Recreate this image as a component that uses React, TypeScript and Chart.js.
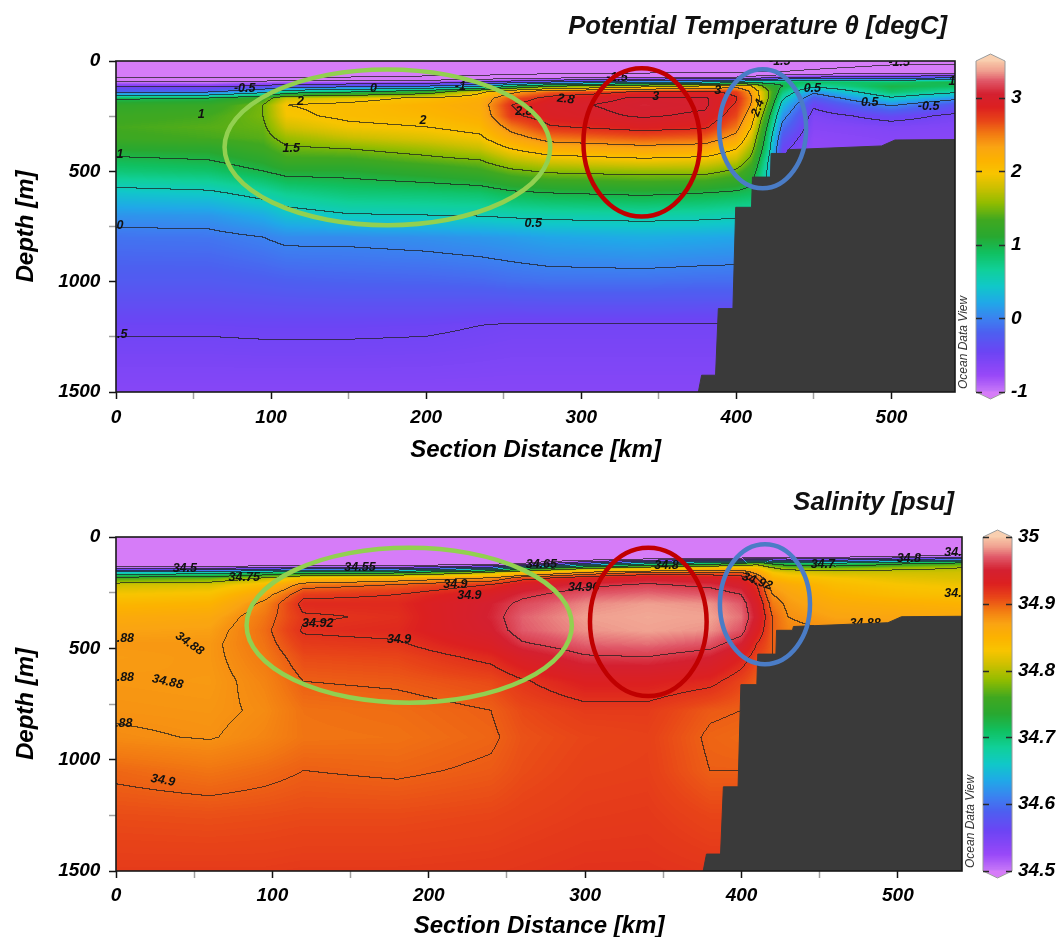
import React, { useEffect, useRef } from 'react';
import { Chart, registerables } from 'chart.js';

Chart.register(...registerables);

const FONT_FAMILY = "'Liberation Sans', Arial, Helvetica, sans-serif";

/* ---------------- shared axes ---------------- */
const DIST_MIN = 0;
const DIST_MAX = 541;
const DEPTH_MIN = 0;
const DEPTH_MAX = 1500;
const X_TICKS = [0, 50, 100, 150, 200, 250, 300, 350, 400, 450, 500];
const X_LABELED = [0, 100, 200, 300, 400, 500];
const Y_TICKS = [0, 250, 500, 750, 1000, 1250, 1500];
const Y_LABELED = [0, 500, 1000, 1500];
const X_TITLE = 'Section Distance [km]';
const Y_TITLE = 'Depth [m]';

/* ---------------- bathymetry (section floor) ---------------- */
const BATHY_KM = [375.5, 377.6, 386.6, 388.4, 397.8, 399.6, 409.8, 410.4, 422.0, 422.4, 432.6, 433.2, 493.6, 502.3, 541];
const BATHY_DEPTH = [1500, 1424, 1424, 1122, 1122, 663, 663, 526, 526, 419, 419, 402, 385, 358, 356];

/* ---------------- potential temperature ---------------- */
const THETA_TITLE = 'Potential Temperature \u03b8 [degC]';
const THETA_KM = [0, 60, 95, 110, 150, 200, 235, 255, 280, 340, 380, 400, 410, 420, 430, 450, 500, 541];
const THETA_DEPTH = [0, 50, 75, 95, 115, 140, 170, 200, 250, 300, 350, 400, 450, 500, 600, 700, 800, 1000, 1200, 1500];
const THETA_PROFILES = [
  [-1.75, -1.7, -1.55, -1.0, -0.55, -0.15, 0.95, 1.2, 1.3, 1.35, 1.3, 1.12, 0.95, 0.8, 0.4, 0.1, -0.08, -0.25, -0.47, -0.65],
  [-1.75, -1.7, -1.55, -1.05, -0.6, -0.1, 1.0, 1.25, 1.35, 1.4, 1.35, 1.15, 1.0, 0.85, 0.45, 0.12, -0.07, -0.25, -0.47, -0.65],
  [-1.75, -1.7, -1.5, -0.95, -0.45, 0.3, 1.3, 1.5, 1.5, 1.45, 1.4, 1.3, 1.15, 1.0, 0.6, 0.25, 0.0, -0.22, -0.46, -0.65],
  [-1.75, -1.7, -1.5, -0.9, -0.3, 0.7, 1.8, 2.0, 1.95, 1.8, 1.6, 1.45, 1.3, 1.1, 0.7, 0.38, 0.05, -0.2, -0.46, -0.65],
  [-1.75, -1.7, -1.5, -0.9, -0.2, 0.9, 1.9, 2.05, 2.05, 1.95, 1.75, 1.5, 1.3, 1.1, 0.8, 0.48, 0.05, -0.18, -0.46, -0.65],
  [-1.75, -1.7, -1.45, -0.85, -0.05, 1.2, 2.05, 2.15, 2.1, 2.0, 1.85, 1.62, 1.42, 1.2, 0.82, 0.5, 0.08, -0.17, -0.47, -0.65],
  [-1.75, -1.7, -1.4, -0.6, 0.3, 1.9, 2.2, 2.25, 2.2, 2.1, 1.95, 1.75, 1.5, 1.3, 0.85, 0.52, 0.12, -0.15, -0.5, -0.65],
  [-1.75, -1.68, -1.35, -0.4, 0.9, 2.3, 2.65, 2.8, 2.75, 2.5, 2.28, 2.0, 1.72, 1.45, 0.95, 0.55, 0.15, -0.12, -0.52, -0.65],
  [-1.75, -1.67, -1.25, -0.2, 1.4, 2.6, 2.88, 2.95, 2.92, 2.78, 2.52, 2.2, 1.85, 1.55, 1.0, 0.58, 0.2, -0.1, -0.52, -0.65],
  [-1.75, -1.65, -1.1, 0.2, 1.8, 2.82, 3.03, 3.06, 3.02, 2.9, 2.62, 2.3, 1.95, 1.6, 1.05, 0.6, 0.25, -0.1, -0.52, -0.65],
  [-1.75, -1.62, -1.05, 0.3, 2.0, 2.86, 3.02, 3.03, 2.97, 2.84, 2.58, 2.25, 1.9, 1.6, 1.0, 0.58, 0.22, -0.12, -0.52, -0.65],
  [-1.75, -1.6, -1.0, 0.5, 2.3, 2.72, 2.82, 2.78, 2.68, 2.52, 2.3, 2.0, 1.75, 1.45, 0.95, 0.55, 0.2, -0.12, -0.52, -0.65],
  [-1.75, -1.55, -0.9, 0.8, 2.0, 2.35, 2.42, 2.38, 2.2, 2.0, 1.8, 1.6, 1.4, 1.2, 0.9, 0.55, 0.2, -0.12, -0.52, -0.65],
  [-1.75, -1.55, -0.8, 0.7, 1.3, 1.6, 1.6, 1.45, 1.2, 1.0, 0.85, 0.75, 0.6, 0.5, 0.4, 0.3, 0.1, -0.15, -0.52, -0.65],
  [-1.75, -1.5, -0.6, 0.9, 1.0, 0.8, 0.55, 0.35, 0.1, -0.1, -0.3, -0.45, -0.5, -0.55, -0.6, -0.6, -0.6, -0.6, -0.6, -0.65],
  [-1.7, -1.45, -0.5, 0.9, 0.6, 0.1, -0.25, -0.45, -0.6, -0.65, -0.7, -0.72, -0.72, -0.72, -0.72, -0.72, -0.72, -0.72, -0.72, -0.72],
  [-1.6, -1.35, -0.4, 0.85, 1.0, 0.85, 0.45, 0.05, -0.4, -0.6, -0.65, -0.68, -0.7, -0.7, -0.7, -0.7, -0.7, -0.7, -0.7, -0.7],
  [-1.6, -1.3, -0.2, 1.0, 0.9, 0.6, 0.1, -0.3, -0.55, -0.62, -0.66, -0.68, -0.7, -0.7, -0.7, -0.7, -0.7, -0.7, -0.7, -0.7],
];
const THETA_LEVELS = [-1.5, -1, -0.5, 0, 0.5, 1, 1.5, 2, 2.4, 2.8, 3];
const THETA_CB_MIN = -1;
const THETA_CB_MAX = 3.5;
const THETA_CB_TICKS = [-1, 0, 1, 2, 3];
const THETA_LABEL_TEXT = ['-0.5', '0', '-1', '2', '1', '1.5', '2', '1', '0', '.5', '0.5', '2.8', '2.8', '3', '3', '-1.5', '2.4', '0.5', '0.5', '-0.5', '-1.5', '-1.5', '1'];
const THETA_LABEL_KM = [83, 166, 222, 119, 55, 113, 198, 2.5, 2.5, 4, 269, 290, 263, 348, 388, 323, 414, 449, 486, 524, 505, 428, 539];
const THETA_LABEL_DEPTH = [123, 123, 114, 182, 241, 395, 268, 423, 745, 1240, 736, 173, 227, 159, 136, 77, 213, 123, 190, 205, 8, 4, 91];
const THETA_LABEL_ANGLE = [0, 0, 0, 0, 0, 0, 0, 0, 0, 0, 0, 8, 0, 0, 0, 0, -70, 0, 0, 0, 0, 0, 0];
const THETA_ELL_KM = [175, 339, 417];
const THETA_ELL_DEPTH = [391, 369, 307];
const THETA_ELL_RKM = [105, 37.6, 28];
const THETA_ELL_RDEPTH = [353, 336, 270];

/* ---------------- salinity ---------------- */
const SAL_TITLE = 'Salinity [psu]';
const SAL_KM = [0, 60, 95, 120, 180, 240, 260, 300, 340, 380, 400, 410, 420, 430, 460, 500, 541];
const SAL_DEPTH = [0, 90, 120, 140, 160, 185, 215, 260, 300, 360, 420, 480, 540, 650, 780, 900, 1050, 1250, 1500];
const SAL_PROFILES = [
  [34.30, 34.34, 34.42, 34.52, 34.66, 34.76, 34.81, 34.83, 34.845, 34.862, 34.87, 34.876, 34.874, 34.876, 34.878, 34.882, 34.897, 34.907, 34.915],
  [34.30, 34.34, 34.42, 34.53, 34.67, 34.77, 34.815, 34.835, 34.85, 34.865, 34.872, 34.876, 34.876, 34.875, 34.877, 34.879, 34.892, 34.906, 34.915],
  [34.30, 34.34, 34.43, 34.55, 34.70, 34.80, 34.84, 34.87, 34.885, 34.892, 34.895, 34.893, 34.89, 34.885, 34.882, 34.885, 34.896, 34.907, 34.915],
  [34.30, 34.34, 34.44, 34.56, 34.72, 34.84, 34.89, 34.915, 34.925, 34.918, 34.922, 34.915, 34.908, 34.90, 34.893, 34.892, 34.90, 34.908, 34.916],
  [34.30, 34.33, 34.43, 34.56, 34.73, 34.86, 34.90, 34.92, 34.925, 34.922, 34.925, 34.918, 34.91, 34.902, 34.895, 34.893, 34.898, 34.908, 34.916],
  [34.30, 34.35, 34.46, 34.62, 34.80, 34.88, 34.92, 34.94, 34.95, 34.952, 34.948, 34.938, 34.925, 34.908, 34.90, 34.898, 34.902, 34.91, 34.917],
  [34.30, 34.36, 34.50, 34.70, 34.84, 34.91, 34.94, 34.955, 34.965, 34.972, 34.97, 34.958, 34.94, 34.918, 34.908, 34.905, 34.907, 34.912, 34.918],
  [34.30, 34.38, 34.60, 34.78, 34.88, 34.93, 34.955, 34.97, 34.98, 34.985, 34.982, 34.972, 34.958, 34.932, 34.915, 34.91, 34.912, 34.915, 34.92],
  [34.30, 34.40, 34.68, 34.82, 34.90, 34.945, 34.962, 34.975, 34.985, 34.988, 34.986, 34.975, 34.96, 34.932, 34.915, 34.912, 34.913, 34.916, 34.92],
  [34.30, 34.42, 34.72, 34.84, 34.90, 34.94, 34.955, 34.97, 34.982, 34.986, 34.982, 34.968, 34.95, 34.925, 34.902, 34.898, 34.90, 34.91, 34.918],
  [34.30, 34.43, 34.75, 34.85, 34.90, 34.93, 34.945, 34.96, 34.97, 34.975, 34.968, 34.95, 34.93, 34.91, 34.90, 34.896, 34.90, 34.91, 34.918],
  [34.30, 34.45, 34.78, 34.84, 34.87, 34.90, 34.92, 34.93, 34.94, 34.945, 34.935, 34.92, 34.91, 34.90, 34.90, 34.90, 34.90, 34.91, 34.918],
  [34.30, 34.45, 34.74, 34.80, 34.83, 34.85, 34.87, 34.88, 34.89, 34.90, 34.90, 34.90, 34.90, 34.90, 34.90, 34.90, 34.90, 34.91, 34.918],
  [34.30, 34.45, 34.72, 34.78, 34.82, 34.84, 34.86, 34.87, 34.875, 34.88, 34.885, 34.89, 34.89, 34.89, 34.89, 34.90, 34.90, 34.91, 34.918],
  [34.30, 34.48, 34.70, 34.78, 34.81, 34.83, 34.84, 34.85, 34.86, 34.87, 34.88, 34.885, 34.885, 34.885, 34.89, 34.90, 34.90, 34.91, 34.918],
  [34.30, 34.50, 34.74, 34.79, 34.81, 34.82, 34.83, 34.84, 34.855, 34.868, 34.88, 34.885, 34.885, 34.885, 34.89, 34.90, 34.90, 34.91, 34.918],
  [34.30, 34.52, 34.76, 34.80, 34.81, 34.815, 34.825, 34.835, 34.85, 34.865, 34.875, 34.88, 34.885, 34.885, 34.89, 34.90, 34.90, 34.91, 34.918],
];
const SAL_LEVELS = [34.5, 34.55, 34.6, 34.65, 34.7, 34.75, 34.8, 34.88, 34.9, 34.92, 34.96];
const SAL_CB_MIN = 34.5;
const SAL_CB_MAX = 35;
const SAL_CB_TICKS = [34.5, 34.6, 34.7, 34.8, 34.9, 35];
const SAL_LABEL_TEXT = ['34.5', '34.75', '34.55', '34.65', '34.8', '34.9', '34.9', '34.96', '34.92', '34.7', '34.8', '34.8', '34.8', '34.88', '34.92', '34.9', '.88', '34.88', '.88', '34.88', '.88', '34.9'];
const SAL_LABEL_KM = [44, 82, 156, 272, 352, 217, 226, 299, 410, 452, 507, 537.5, 537.5, 479, 129, 181, 6, 47, 6, 33, 5, 30];
const SAL_LABEL_DEPTH = [140, 181, 136, 122, 126, 212, 262, 226, 199, 122, 99, 72, 253, 389, 389, 461, 456, 479, 633, 651, 840, 1093];
const SAL_LABEL_ANGLE = [0, 0, 0, 0, 0, 0, 0, 0, 20, 0, 0, 0, 0, 0, 0, 0, 0, 35, 0, 12, 0, 10];
const SAL_ELL_KM = [187.5, 340.4, 415];
const SAL_ELL_DEPTH = [396, 381, 302];
const SAL_ELL_RKM = [104, 37.3, 28.8];
const SAL_ELL_RDEPTH = [348, 333, 269];

/* ---------------- styling ---------------- */
const ELLIPSE_COLORS = ['#92d050', '#c00000', '#4a7cc6'];
const BATHY_COLOR = '#3a3a3a';
const CMAP_T = [0, 0.05, 0.12, 0.18, 0.22, 0.27, 0.32, 0.37, 0.42, 0.47, 0.52, 0.57, 0.62, 0.66, 0.7, 0.74, 0.78, 0.82, 0.86, 0.9, 0.94, 0.97, 1];
const CMAP_HEX = ['#c878f8', '#9848f8', '#6c44f4', '#4c60f0', '#3c80f0', '#20a8e8', '#10c8c8', '#10d098', '#10c060', '#28a830', '#40a820', '#90bc00', '#d0c000', '#f8c400', '#fcb200', '#faa412', '#f27a12', '#e84418', '#dc2020', '#d42030', '#e05868', '#f0a090', '#f8c8a8'];
const BELOW_RGB = [214, 124, 248];
const ABOVE_RGB = [249, 207, 176];

function hexToRgb(h: string) {
  const n = parseInt(h.slice(1), 16);
  return [(n >> 16) & 255, (n >> 8) & 255, n & 255];
}

const LUT_N = 512;
const LUT = (() => {
  const rgb = CMAP_HEX.map(hexToRgb);
  const out = new Uint8ClampedArray(LUT_N * 3);
  for (let n = 0; n < LUT_N; n++) {
    const t = n / (LUT_N - 1);
    let k = 0;
    while (k < CMAP_T.length - 2 && t > CMAP_T[k + 1]) k++;
    const f = (t - CMAP_T[k]) / (CMAP_T[k + 1] - CMAP_T[k]);
    for (let c = 0; c < 3; c++) out[n * 3 + c] = rgb[k][c] + (rgb[k + 1][c] - rgb[k][c]) * f;
  }
  return out;
})();

function colorAt(v: number, min: number, max: number): number[] {
  if (v < min) return BELOW_RGB;
  if (v > max) return ABOVE_RGB;
  const n = Math.round(((v - min) / (max - min)) * (LUT_N - 1));
  return [LUT[n * 3], LUT[n * 3 + 1], LUT[n * 3 + 2]];
}

function clamp01(v: number) {
  return v < 0 ? 0 : v > 1 ? 1 : v;
}

type Layout = {
  height: number; plotLeft: number; plotRight: number; plotTop: number; plotBottom: number;
  titleBaseline: number; xTickPad: number; xTitlePad: number; cbOffset: number; cbWidth: number; cbLabelPad: number;
};

type Panel = {
  key: string; title: string; km: number[]; depth: number[]; profiles: number[][]; levels: number[];
  cbMin: number; cbMax: number; cbTicks: number[]; cbDecimals: number;
  labelText: string[]; labelKm: number[]; labelDepth: number[]; labelAngle: number[];
  ellKm: number[]; ellDepth: number[]; ellRKm: number[]; ellRDepth: number[];
  layout: Layout;
};

const THETA_PANEL: Panel = {
  key: 'theta', title: THETA_TITLE, km: THETA_KM, depth: THETA_DEPTH, profiles: THETA_PROFILES, levels: THETA_LEVELS,
  cbMin: THETA_CB_MIN, cbMax: THETA_CB_MAX, cbTicks: THETA_CB_TICKS, cbDecimals: 0,
  labelText: THETA_LABEL_TEXT, labelKm: THETA_LABEL_KM, labelDepth: THETA_LABEL_DEPTH, labelAngle: THETA_LABEL_ANGLE,
  ellKm: THETA_ELL_KM, ellDepth: THETA_ELL_DEPTH, ellRKm: THETA_ELL_RKM, ellRDepth: THETA_ELL_RDEPTH,
  layout: { height: 466, plotLeft: 116, plotRight: 955, plotTop: 61, plotBottom: 392, titleBaseline: 34, xTickPad: 7.6, xTitlePad: 6.4, cbOffset: 21, cbWidth: 29, cbLabelPad: 56 },
};

const SAL_PANEL: Panel = {
  key: 'sal', title: SAL_TITLE, km: SAL_KM, depth: SAL_DEPTH, profiles: SAL_PROFILES, levels: SAL_LEVELS,
  cbMin: SAL_CB_MIN, cbMax: SAL_CB_MAX, cbTicks: SAL_CB_TICKS, cbDecimals: 1,
  labelText: SAL_LABEL_TEXT, labelKm: SAL_LABEL_KM, labelDepth: SAL_LABEL_DEPTH, labelAngle: SAL_LABEL_ANGLE,
  ellKm: SAL_ELL_KM, ellDepth: SAL_ELL_DEPTH, ellRKm: SAL_ELL_RKM, ellRDepth: SAL_ELL_RDEPTH,
  layout: { height: 471, plotLeft: 116, plotRight: 962, plotTop: 71, plotBottom: 405, titleBaseline: 44, xTickPad: 6.6, xTitlePad: 1.4, cbOffset: 21, cbWidth: 29, cbLabelPad: 56 },
};

/* ---------------- drawing helpers ---------------- */
function drawField(chart: any, p: Panel) {
  const { ctx, chartArea } = chart;
  const xs = chart.scales.x;
  const ys = chart.scales.y;
  const L = Math.round(chartArea.left);
  const T = Math.round(chartArea.top);
  const W = Math.round(chartArea.right) - L;
  const H = Math.round(chartArea.bottom) - T;
  if (W <= 0 || H <= 0) return;
  const km = p.km, dp = p.depth, pr = p.profiles, lv = p.levels;
  const ci = new Int32Array(W), cf = new Float32Array(W);
  for (let i = 0; i < W; i++) {
    const v = xs.getValueForPixel(L + i + 0.5);
    let k = 0;
    while (k < km.length - 2 && v > km[k + 1]) k++;
    ci[i] = k;
    cf[i] = clamp01((v - km[k]) / (km[k + 1] - km[k]));
  }
  const ri = new Int32Array(H), rf = new Float32Array(H);
  for (let j = 0; j < H; j++) {
    const v = ys.getValueForPixel(T + j + 0.5);
    let k = 0;
    while (k < dp.length - 2 && v > dp[k + 1]) k++;
    ri[j] = k;
    rf[j] = clamp01((v - dp[k]) / (dp[k + 1] - dp[k]));
  }
  const N = W * H;
  const vals = new Float32Array(N);
  const band = new Int16Array(N);
  for (let j = 0; j < H; j++) {
    const r = ri[j], f = rf[j];
    for (let i = 0; i < W; i++) {
      const a = pr[ci[i]], b = pr[ci[i] + 1], g = cf[i];
      const va = a[r] + (a[r + 1] - a[r]) * f;
      const vb = b[r] + (b[r + 1] - b[r]) * f;
      const v = va + (vb - va) * g;
      const idx = j * W + i;
      vals[idx] = v;
      let n = 0;
      for (let q = 0; q < lv.length; q++) if (v >= lv[q]) n++;
      band[idx] = n;
    }
  }
  const img = ctx.createImageData(W, H);
  const d = img.data;
  const A = 0.72;
  for (let j = 0; j < H; j++) {
    for (let i = 0; i < W; i++) {
      const idx = j * W + i;
      const c = colorAt(vals[idx], p.cbMin, p.cbMax);
      let r = c[0], g = c[1], b = c[2];
      const bd = band[idx];
      const edge = (i + 1 < W && band[idx + 1] !== bd) || (j + 1 < H && band[idx + W] !== bd);
      if (edge) {
        r = r * (1 - A) + 30 * A;
        g = g * (1 - A) + 30 * A;
        b = b * (1 - A) + 30 * A;
      }
      const o = idx * 4;
      d[o] = r; d[o + 1] = g; d[o + 2] = b; d[o + 3] = 255;
    }
  }
  ctx.putImageData(img, L, T);
}

function drawContourLabels(chart: any, p: Panel) {
  const { ctx, chartArea } = chart;
  const xs = chart.scales.x, ys = chart.scales.y;
  ctx.save();
  ctx.beginPath();
  ctx.rect(chartArea.left, chartArea.top, chartArea.right - chartArea.left, chartArea.bottom - chartArea.top);
  ctx.clip();
  ctx.font = `italic bold 12.5px ${FONT_FAMILY}`;
  ctx.fillStyle = '#111';
  ctx.textAlign = 'center';
  ctx.textBaseline = 'middle';
  for (let i = 0; i < p.labelText.length; i++) {
    const px = xs.getPixelForValue(p.labelKm[i]);
    const py = ys.getPixelForValue(p.labelDepth[i]);
    ctx.save();
    ctx.translate(px, py);
    ctx.rotate((p.labelAngle[i] * Math.PI) / 180);
    ctx.fillText(p.labelText[i], 0, 0);
    ctx.restore();
  }
  ctx.restore();
}

function drawFrame(chart: any) {
  const { ctx, chartArea } = chart;
  ctx.save();
  ctx.strokeStyle = '#1a1a1a';
  ctx.lineWidth = 1.6;
  ctx.strokeRect(chartArea.left, chartArea.top, chartArea.right - chartArea.left, chartArea.bottom - chartArea.top);
  ctx.restore();
}

function drawEllipses(chart: any, p: Panel) {
  const { ctx } = chart;
  const xs = chart.scales.x, ys = chart.scales.y;
  ctx.save();
  ctx.lineWidth = 4.5;
  for (let i = 0; i < p.ellKm.length; i++) {
    const cx = xs.getPixelForValue(p.ellKm[i]);
    const cy = ys.getPixelForValue(p.ellDepth[i]);
    const rx = Math.abs(xs.getPixelForValue(p.ellKm[i] + p.ellRKm[i]) - cx);
    const ry = Math.abs(ys.getPixelForValue(p.ellDepth[i] + p.ellRDepth[i]) - cy);
    ctx.strokeStyle = ELLIPSE_COLORS[i % ELLIPSE_COLORS.length];
    ctx.beginPath();
    ctx.ellipse(cx, cy, rx, ry, 0, 0, Math.PI * 2);
    ctx.stroke();
  }
  ctx.restore();
}

function drawColorbar(chart: any, p: Panel) {
  const { ctx } = chart;
  const cb = chart.scales.cb;
  if (!cb) return;
  const x0 = cb.left + p.layout.cbOffset;
  const w = p.layout.cbWidth;
  const yTop = cb.getPixelForValue(p.cbMax);
  const yBot = cb.getPixelForValue(p.cbMin);
  const cap = 7;
  ctx.save();
  for (let y = Math.floor(yTop); y < Math.ceil(yBot); y++) {
    const v = cb.getValueForPixel(y + 0.5);
    const c = colorAt(Math.min(p.cbMax, Math.max(p.cbMin, v)), p.cbMin, p.cbMax);
    ctx.fillStyle = `rgb(${c[0]},${c[1]},${c[2]})`;
    ctx.fillRect(x0, y, w, 1);
  }
  ctx.fillStyle = `rgb(${ABOVE_RGB.join(',')})`;
  ctx.beginPath();
  ctx.moveTo(x0, yTop + 0.5);
  ctx.lineTo(x0 + w / 2, yTop - cap);
  ctx.lineTo(x0 + w, yTop + 0.5);
  ctx.closePath();
  ctx.fill();
  ctx.fillStyle = `rgb(${BELOW_RGB.join(',')})`;
  ctx.beginPath();
  ctx.moveTo(x0, yBot - 0.5);
  ctx.lineTo(x0 + w / 2, yBot + cap);
  ctx.lineTo(x0 + w, yBot - 0.5);
  ctx.closePath();
  ctx.fill();
  ctx.strokeStyle = '#9a9a9a';
  ctx.lineWidth = 1;
  ctx.beginPath();
  ctx.moveTo(x0, yBot);
  ctx.lineTo(x0, yTop);
  ctx.lineTo(x0 + w / 2, yTop - cap);
  ctx.lineTo(x0 + w, yTop);
  ctx.lineTo(x0 + w, yBot);
  ctx.lineTo(x0 + w / 2, yBot + cap);
  ctx.closePath();
  ctx.stroke();
  ctx.strokeStyle = '#2a2a2a';
  ctx.lineWidth = 1.4;
  for (const v of p.cbTicks) {
    const y = Math.round(cb.getPixelForValue(v)) + 0.5;
    ctx.beginPath();
    ctx.moveTo(x0, y);
    ctx.lineTo(x0 + 6, y);
    ctx.moveTo(x0 + w - 6, y);
    ctx.lineTo(x0 + w, y);
    ctx.stroke();
  }
  ctx.translate(x0 - 12, yBot - 3);
  ctx.rotate(-Math.PI / 2);
  ctx.font = `italic 12px ${FONT_FAMILY}`;
  ctx.fillStyle = '#333';
  ctx.textAlign = 'left';
  ctx.textBaseline = 'middle';
  ctx.fillText('Ocean Data View', 0, 0);
  ctx.restore();
}

function drawTitle(chart: any, p: Panel) {
  const { ctx, chartArea } = chart;
  ctx.save();
  ctx.font = `italic bold 25.6px ${FONT_FAMILY}`;
  ctx.fillStyle = '#111';
  ctx.textAlign = 'right';
  ctx.textBaseline = 'alphabetic';
  ctx.fillText(p.title, chartArea.right - 8, p.layout.titleBaseline);
  ctx.restore();
}

function makePanelPlugin(p: Panel) {
  return {
    id: 'odvSection_' + p.key,
    beforeDatasetsDraw(chart: any) {
      drawField(chart, p);
      drawContourLabels(chart, p);
    },
    afterDatasetsDraw(chart: any) {
      drawFrame(chart);
      drawEllipses(chart, p);
    },
    afterDraw(chart: any) {
      drawColorbar(chart, p);
      drawTitle(chart, p);
    },
  };
}

function tickFont(size: number) {
  return { family: FONT_FAMILY, size, weight: 'bold' as const, style: 'italic' as const };
}

function buildConfig(p: Panel): any {
  const lay = p.layout;
  const canvasWidth = 1060;
  return {
    type: 'line',
    data: {
      datasets: [
        {
          label: 'Bathymetry',
          data: BATHY_KM.map((x, i) => ({ x, y: BATHY_DEPTH[i] })),
          borderColor: BATHY_COLOR,
          backgroundColor: BATHY_COLOR,
          borderWidth: 1,
          pointRadius: 0,
          tension: 0,
          fill: 'start',
        },
      ],
    },
    options: {
      responsive: false,
      animation: false,
      events: [],
      layout: { padding: { top: lay.plotTop, left: 0, right: 0, bottom: 0 } },
      plugins: {
        legend: { display: false },
        tooltip: { enabled: false },
        title: { display: false },
      },
      scales: {
        x: {
          type: 'linear',
          position: 'bottom',
          min: DIST_MIN,
          max: DIST_MAX,
          afterFit: (s: any) => { s.height = lay.height - lay.plotBottom; },
          afterBuildTicks: (s: any) => { s.ticks = X_TICKS.map((v) => ({ value: v })); },
          border: { display: false },
          grid: {
            drawOnChartArea: false,
            drawTicks: true,
            tickLength: 7,
            tickWidth: 1.5,
            tickColor: (c: any) => (c.tick && X_LABELED.includes(c.tick.value) ? '#111' : '#a0a0a0'),
          },
          ticks: {
            autoSkip: false,
            maxRotation: 0,
            padding: lay.xTickPad,
            color: '#000',
            font: tickFont(19),
            callback: (v: any) => (X_LABELED.includes(Number(v)) ? String(v) : ''),
          },
          title: {
            display: true,
            text: X_TITLE,
            color: '#000',
            font: { family: FONT_FAMILY, size: 24, weight: 'bold', style: 'italic', lineHeight: 0.8 },
            padding: { top: 0, bottom: lay.xTitlePad },
          },
        },
        y: {
          type: 'linear',
          position: 'left',
          reverse: true,
          min: DEPTH_MIN,
          max: DEPTH_MAX,
          afterFit: (s: any) => { s.width = lay.plotLeft; },
          afterBuildTicks: (s: any) => { s.ticks = Y_TICKS.map((v) => ({ value: v })); },
          border: { display: false },
          grid: {
            drawOnChartArea: false,
            drawTicks: true,
            tickLength: 7,
            tickWidth: 1.5,
            tickColor: (c: any) => (c.tick && Y_LABELED.includes(c.tick.value) ? '#111' : '#a0a0a0'),
          },
          ticks: {
            autoSkip: false,
            padding: 8.6,
            color: '#000',
            font: tickFont(19),
            callback: (v: any) => (Y_LABELED.includes(Number(v)) ? String(v) : ''),
          },
          title: {
            display: true,
            text: Y_TITLE,
            color: '#000',
            font: { family: FONT_FAMILY, size: 24, weight: 'bold', style: 'italic', lineHeight: 1.2 },
            padding: { top: 11.6, bottom: 0 },
          },
        },
        cb: {
          type: 'linear',
          position: 'right',
          min: p.cbMin,
          max: p.cbMax,
          afterFit: (s: any) => { s.width = canvasWidth - lay.plotRight; },
          afterBuildTicks: (s: any) => { s.ticks = p.cbTicks.map((v) => ({ value: v })); },
          border: { display: false },
          // invisible tick marks whose length only pushes the labels right of the colour bar
          grid: { display: false, drawTicks: true, tickLength: lay.cbLabelPad - 4, drawOnChartArea: false },
          ticks: {
            autoSkip: false,
            padding: 4,
            color: '#000',
            font: tickFont(19),
            callback: (v: any) => String(Number(Number(v).toFixed(p.cbDecimals))),
          },
        },
      },
    },
    plugins: [makePanelPlugin(p)],
  };
}

function SectionPanel({ panel }: { panel: Panel }) {
  const ref = useRef<HTMLCanvasElement | null>(null);
  useEffect(() => {
    if (!ref.current) return;
    const chart = new Chart(ref.current, buildConfig(panel));
    return () => chart.destroy();
  }, [panel]);
  return (
    <canvas
      ref={ref}
      width={1060}
      height={panel.layout.height}
      style={{ display: 'block', width: 1060, height: panel.layout.height }}
    />
  );
}

export default function App() {
  return (
    <div style={{ position: 'fixed', left: 0, top: 0, width: 1060, height: 937, background: '#ffffff', overflow: 'hidden' }}>
      <SectionPanel panel={THETA_PANEL} />
      <SectionPanel panel={SAL_PANEL} />
    </div>
  );
}
